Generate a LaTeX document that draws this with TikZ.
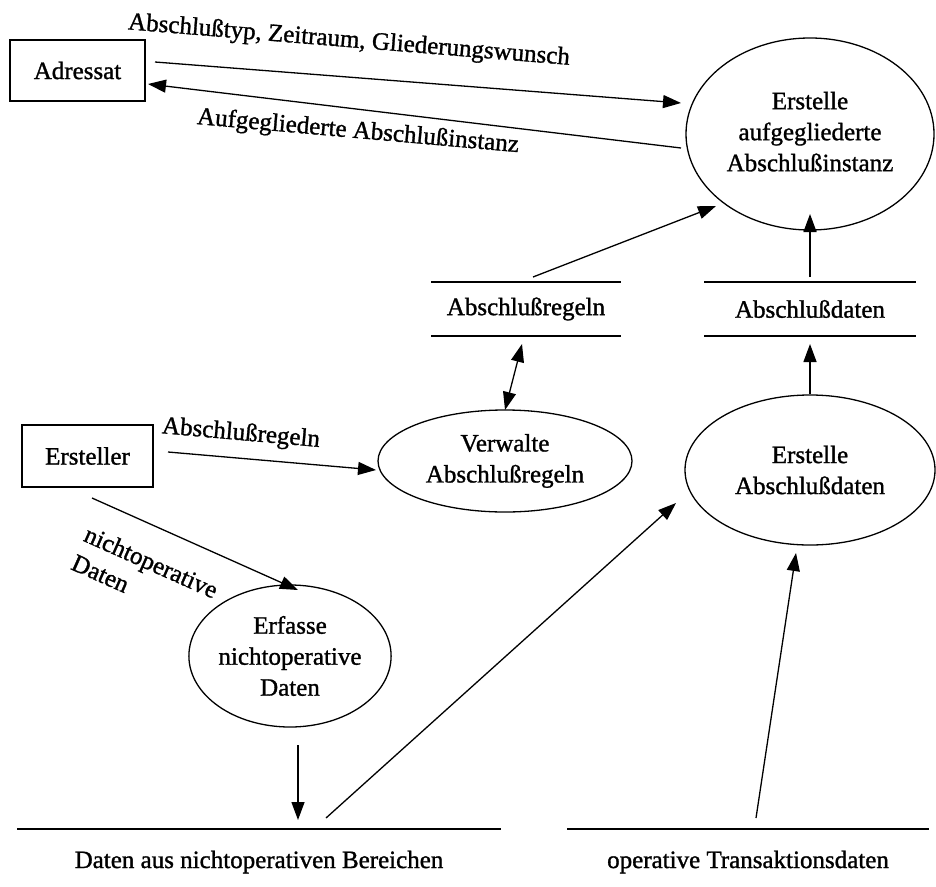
\documentclass[tikz,border=0pt]{standalone}
\usepackage{fontspec}
\setmainfont{Liberation Serif}[FakeBold=1.2]
\usetikzlibrary{arrows.meta,shapes.geometric}
\begin{document}
\begin{tikzpicture}[x=1pt,y=-1pt, line width=1.3pt,
  font=\fontsize{25}{31}\selectfont,
  arr/.style={-{Triangle[length=18pt,width=13pt]}},
  darr/.style={{Triangle[length=18pt,width=13pt]}-{Triangle[length=18pt,width=13pt]}},
  proc/.style={draw, ellipse, inner sep=0pt, align=center},
  ext/.style={draw, rectangle, inner sep=0pt},
  store/.style={inner sep=0pt},
  storeline/.style={line width=1.8pt},
  lbl/.style={inner sep=0pt}]
\useasboundingbox (0,0) rectangle (936,886);

% external entities
\node[ext, minimum width=135pt, minimum height=61pt] (adr) at (77.5,70.5) {Adressat};
\node[ext, minimum width=131pt, minimum height=62pt] (ers) at (87.5,456) {Ersteller};

% processes
\node[proc, minimum width=248pt, minimum height=192pt] (e1) at (810,134) {\raisebox{5pt}{\begin{tabular}{@{}c@{}}Erstelle\\aufgegliederte\\Abschlußinstanz\end{tabular}}};
\node[proc, minimum width=254pt, minimum height=102pt] (ver) at (505,461) {Verwalte\\Abschlußregeln};
\node[proc, minimum width=250pt, minimum height=150pt] (ead) at (810,470) {Erstelle\\Abschlußdaten};
\node[proc, minimum width=166pt, minimum height=142pt] (erf) at (290,656) {Erfasse\\nichtoperative\\Daten};

% data stores
\node[store, minimum width=188pt, minimum height=52pt] (sr) at (526,309) {Abschlußregeln};
\node[store, minimum width=210pt, minimum height=52pt] (sd) at (810,309) {Abschlußdaten};
\node[store, minimum width=482pt, minimum height=64pt] (bn) at (259,862) {Daten aus nichtoperativen Bereichen};
\node[store, minimum width=360pt, minimum height=64pt] (bo) at (748,862) {operative Transaktionsdaten};
\draw[storeline] (sr.north west) -- (sr.north east) (sr.south west) -- (sr.south east);
\draw[storeline] (sd.north west) -- (sd.north east) (sd.south west) -- (sd.south east);
\draw[storeline] (bn.north west) -- (bn.north east);
\draw[storeline] (bo.north west) -- (bo.north east);

% connector end points
\coordinate (c1a) at (155,62);   \coordinate (c1b) at (681,103);
\coordinate (c2a) at (681,148);  \coordinate (c2b) at (148,84);
\coordinate (c3a) at (533,277);  \coordinate (c3b) at (716,206);
\coordinate (c4a) at (810,277);  \coordinate (c4b) at (810,214);
\coordinate (c5a) at (522,344);  \coordinate (c5b) at (505,410);
\coordinate (c6a) at (810,394);  \coordinate (c6b) at (810,344);
\coordinate (c7a) at (168,452);  \coordinate (c7b) at (376,470);
\coordinate (c8a) at (92,498);   \coordinate (c8b) at (298,590);
\coordinate (c9a) at (298,745);  \coordinate (c9b) at (298,820);
\coordinate (c10a) at (326,818); \coordinate (c10b) at (676,503);
\coordinate (c11a) at (756,818); \coordinate (c11b) at (796,553);

\draw[arr] (c1a) -- (c1b);
\draw[arr] (c2a) -- (c2b);
\draw[arr] (c3a) -- (c3b);
\draw[arr] (c4a) -- (c4b);
\draw[darr] (c5a) -- (c5b);
\draw[arr] (c6a) -- (c6b);
\draw[arr] (c7a) -- (c7b);
\draw[arr] (c8a) -- (c8b);
\draw[arr] (c9a) -- (c9b);
\draw[arr] (c10a) -- (c10b);
\draw[arr] (c11a) -- (c11b);

% labels
\node[lbl, rotate=-4.6] (l1) at (349,41) {Abschlußtyp, Zeitraum, Gliederungswunsch};
\node[lbl, rotate=-5] (l2) at (358,132) {Aufgegliederte Abschlußinstanz};
\node[lbl, rotate=-5] (l3) at (241,434) {Abschlußregeln};
\node[lbl, rotate=-24, align=left] (l4) at (145,576) {nichtoperative\\Daten};
\end{tikzpicture}
\end{document}
